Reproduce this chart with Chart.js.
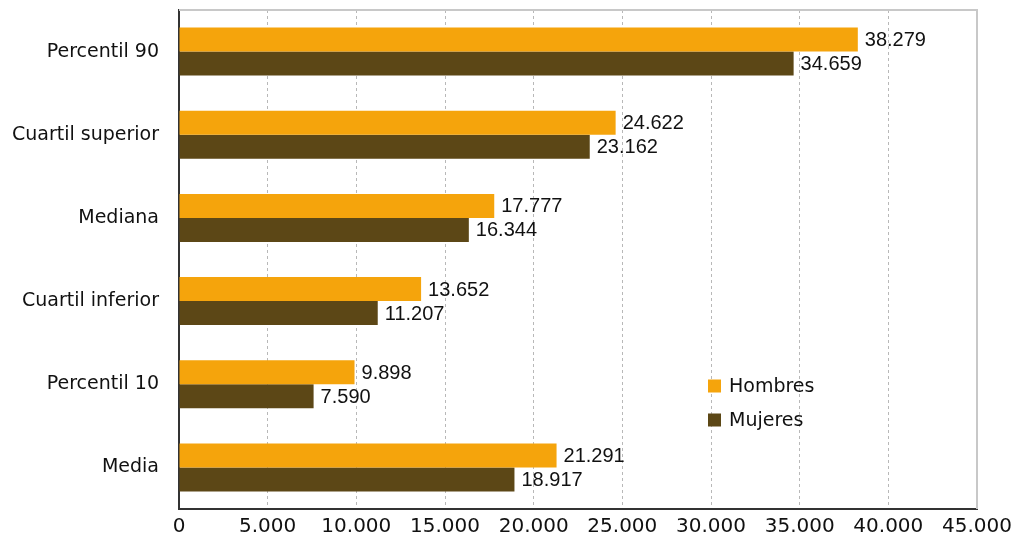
<!DOCTYPE html>
<html>
<head>
<meta charset="utf-8">
<script src="https://cdn.jsdelivr.net/npm/chart.js@4/dist/chart.umd.min.js"></script>
<style>
  html, body { margin: 0; padding: 0; background: #fff; }
  #wrap { width: 1014px; height: 541px; }
</style>
</head>
<body>
<div id="wrap"><canvas id="myChart" width="1014" height="541"></canvas></div>
<script>
"use strict";

const categories = ["Percentil 90", "Cuartil superior", "Mediana", "Cuartil inferior", "Percentil 10", "Media"];
const hombres = [38279, 24622, 17777, 13652, 9898, 21291];
const mujeres = [34659, 23162, 16344, 11207, 7590, 18917];
const seriesNames = ["Hombres", "Mujeres"];
const xMax = 45000;
const xStep = 5000;

const fmt = (n) => String(n).replace(/\B(?=(\d{3})+(?!\d))/g, ".");

const axisFont = { family: "DejaVu Sans", size: 19 };

const valueLabels = {
  id: "valueLabels",
  afterDatasetsDraw: (chart) => {
    const { ctx } = chart;
    ctx.save();
    ctx.font = "20px 'Liberation Sans', Arial, sans-serif";
    ctx.fillStyle = "#111";
    ctx.textAlign = "left";
    ctx.textBaseline = "middle";
    chart.data.datasets.forEach((ds, i) => {
      chart.getDatasetMeta(i).data.forEach((bar, j) => {
        ctx.fillText(fmt(ds.data[j]), bar.x + 7, bar.y + 1);
      });
    });
    ctx.restore();
  },
};

const frame = {
  id: "frame",
  beforeDatasetsDraw: (chart) => {
    const { ctx, chartArea } = chart;
    ctx.save();
    ctx.strokeStyle = "#c8c8c8";
    ctx.lineWidth = 2;
    ctx.beginPath();
    ctx.moveTo(chartArea.left, chartArea.top);
    ctx.lineTo(chartArea.right, chartArea.top);
    ctx.lineTo(chartArea.right, chartArea.bottom);
    ctx.stroke();
    ctx.restore();
  },
};

const innerLegend = {
  id: "innerLegend",
  afterDraw: (chart) => {
    const { ctx, chartArea } = chart;
    const x = chartArea.left + 529;
    const y0 = 386;
    ctx.save();
    ctx.font = "19px 'DejaVu Sans', sans-serif";
    ctx.textBaseline = "middle";
    ctx.textAlign = "left";
    chart.data.datasets.forEach((ds, i) => {
      const y = y0 + i * 34;
      ctx.fillStyle = ds.backgroundColor;
      ctx.fillRect(x, y - 6.5, 13, 13);
      ctx.fillStyle = "#111";
      ctx.fillText(ds.label, x + 21, y + 1);
    });
    ctx.restore();
  },
};

const ctx = document.getElementById("myChart").getContext("2d");

new Chart(ctx, {
  type: "bar",
  data: {
    labels: categories,
    datasets: [
      {
        label: seriesNames[0],
        data: hombres,
        backgroundColor: "#F5A40C",
        barPercentage: 1,
        categoryPercentage: 0.577,
      },
      {
        label: seriesNames[1],
        data: mujeres,
        backgroundColor: "#5C4716",
        barPercentage: 1,
        categoryPercentage: 0.577,
      },
    ],
  },
  options: {
    indexAxis: "y",
    responsive: false,
    animation: false,
    layout: {
      padding: { top: 10, right: 37, bottom: 0, left: 0 },
    },
    plugins: {
      legend: { display: false },
      tooltip: { enabled: false },
    },
    scales: {
      x: {
        min: 0,
        max: xMax,
        ticks: {
          stepSize: xStep,
          color: "#111",
          font: { family: "DejaVu Sans", size: 20 },
          padding: 6,
          callback: (v) => fmt(v),
        },
        grid: {
          drawTicks: false,
          lineWidth: 1,
          color: (c) =>
            c.tick && (c.tick.value === 0 || c.tick.value === xMax) ? "rgba(0,0,0,0)" : "#b8b8b8",
        },
        border: { display: true, color: "#333", width: 2, dash: [3, 3] },
        afterFit: (scale) => {
          scale.height = 32;
          scale.paddingTop = 0;
          scale.paddingBottom = 0;
          scale.paddingLeft = 0;
          scale.paddingRight = 0;
        },
      },
      y: {
        ticks: {
          color: "#111",
          font: axisFont,
          padding: 20,
        },
        grid: { display: false, drawTicks: false },
        border: { display: true, color: "#333", width: 2 },
        afterFit: (scale) => {
          scale.width = 179;
          scale.paddingTop = 0;
          scale.paddingBottom = 0;
        },
      },
    },
  },
  plugins: [frame, valueLabels, innerLegend],
});
</script>
</body>
</html>
